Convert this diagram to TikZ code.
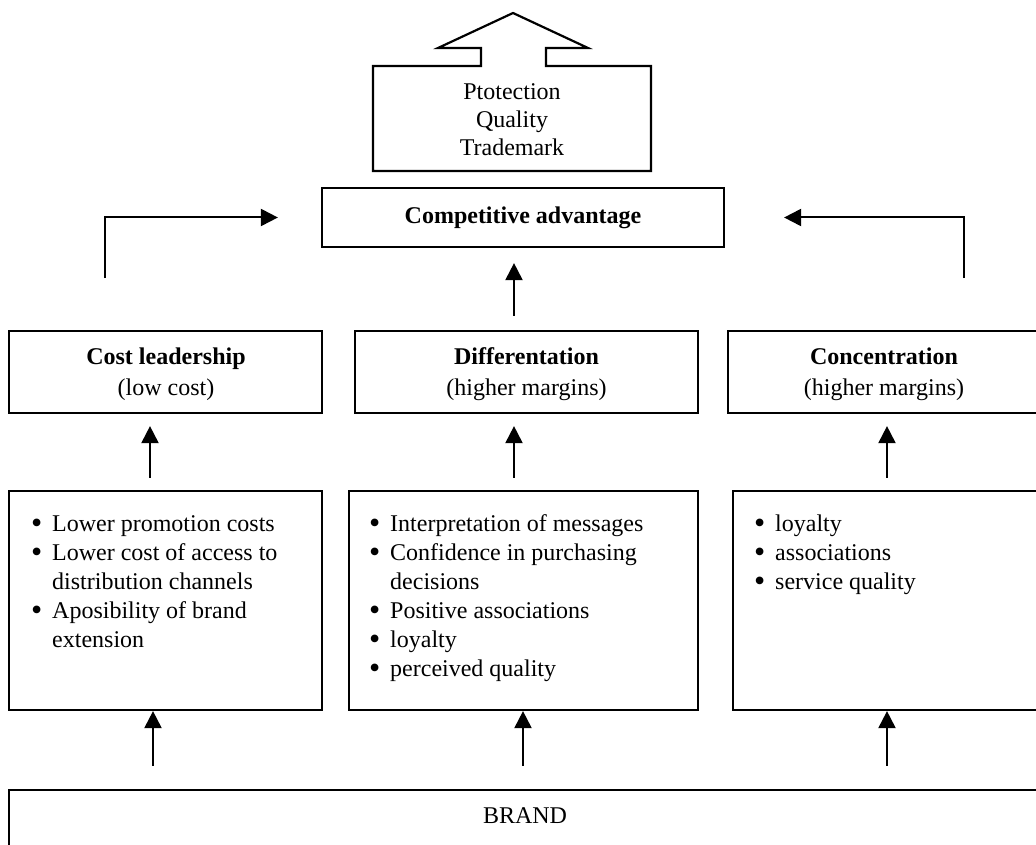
\documentclass[tikz,border=0pt]{standalone}
\usepackage{fontspec}
\setmainfont{Liberation Serif}
\usetikzlibrary{arrows.meta}
\newcommand{\bl}{\makebox[21pt][l]{\raisebox{-1.5pt}{\fontsize{32}{29}\selectfont\textbullet}}}
\newcommand{\ind}{\hspace*{21pt}}
\begin{document}
\begin{tikzpicture}[x=1pt,y=-1pt,
  box/.style={draw, line width=2.2pt, inner sep=0pt, align=center, font=\fontsize{24}{31}\selectfont},
  plain/.style={inner sep=0pt, align=center, font=\fontsize{24}{28}\selectfont},
  arr/.style={line width=2pt, -{Triangle[length=17pt,width=17pt]}},
  listtext/.style={inner sep=0pt, align=left, anchor=north west, font=\fontsize{24}{29}\selectfont}]
\useasboundingbox (0,0) rectangle (1036,845);
\clip (0,0) rectangle (1036,845);
\fill[white] (0,0) rectangle (1036,845);

% top arrow-shaped box
\draw[line width=2.2pt, line join=miter] (373,171) -- (373,66) -- (481,66) -- (481,48) -- (438,48) -- (513,13) -- (588,48) -- (546,48) -- (546,66) -- (651,66) -- (651,171) -- cycle;
\node[plain] (prot) at (512,120) {Ptotection\\Quality\\Trademark};

% competitive advantage
\node[box, minimum width=402pt, minimum height=59pt] (comp) at (523,217.5) {\textbf{Competitive advantage}};

% row 1
\node[box, minimum width=313pt, minimum height=82pt] (cost) at (165.5,371.7) {};
\node[box, minimum width=343pt, minimum height=82pt] (diff) at (526.5,371.7) {};
\node[box, minimum width=312pt, minimum height=82pt] (conc) at (884,371.7) {};
\node[plain, font=\fontsize{24}{31}\selectfont] (costt) at (166,374.5) {\textbf{Cost leadership}\\(low cost)};
\node[plain, font=\fontsize{24}{31}\selectfont] (difft) at (526.5,374.5) {\textbf{Differentation}\\(higher margins)};
\node[plain, font=\fontsize{24}{31}\selectfont] (conct) at (884,374.5) {\textbf{Concentration}\\(higher margins)};

% row 2
\node[box, minimum width=313pt, minimum height=219pt] (listL) at (165.5,600.5) {};
\node[box, minimum width=349pt, minimum height=219pt] (listM) at (523.5,600.5) {};
\node[box, minimum width=312pt, minimum height=219pt] (listR) at (889,600.5) {};

\node[listtext] (tL) at (31,511) {\strut\bl Lower promotion costs\\\bl Lower cost of access to\\\ind distribution channels\\\bl Aposibility of brand\\\ind extension};
\node[listtext] (tM) at (369,511) {\strut\bl Interpretation of messages\\\bl Confidence in purchasing\\\ind decisions\\\bl Positive associations\\\bl loyalty\\\bl perceived quality};
\node[listtext] (tR) at (754,511) {\strut\bl loyalty\\\bl associations\\\bl service quality};

% brand
\node[box, minimum width=1036pt, minimum height=80pt] (brand) at (527,830) {};
\node[plain] (brandtxt) at (525,816) {BRAND};

% connector columns
\coordinate (c1) at (150,0);
\coordinate (c2) at (514,0);
\coordinate (c3) at (887,0);
\coordinate (d1) at (153,0);
\coordinate (d2) at (523,0);
\coordinate (d3) at (887,0);
\coordinate (lt) at (105,278);
\coordinate (rt) at (964,278);

% arrows
\draw[arr] (lt) |- ([xshift=-43pt]comp.west);
\draw[arr] (rt) |- ([xshift=59pt]comp.east);
\draw[arr, shorten <=14pt, shorten >=15pt] (diff.north -| c2) -- (comp.south -| c2);

\draw[arr, shorten <=12pt, shorten >=12.3pt] (listL.north -| c1) -- (cost.south -| c1);
\draw[arr, shorten <=12pt, shorten >=12.3pt] (listM.north -| c2) -- (diff.south -| c2);
\draw[arr, shorten <=12pt, shorten >=12.3pt] (listR.north -| c3) -- (conc.south -| c3);

\draw[arr, shorten <=23pt] (brand.north -| d1) -- (listL.south -| d1);
\draw[arr, shorten <=23pt] (brand.north -| d2) -- (listM.south -| d2);
\draw[arr, shorten <=23pt] (brand.north -| d3) -- (listR.south -| d3);
\end{tikzpicture}
\end{document}
